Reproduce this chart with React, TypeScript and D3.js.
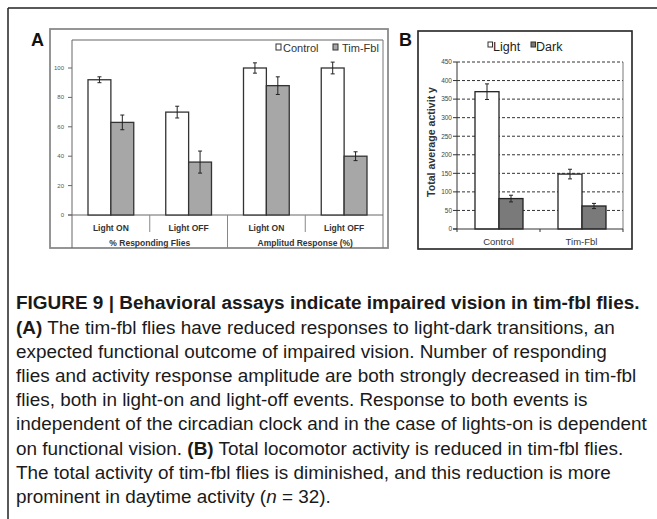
import React, { useLayoutEffect, useRef, useState } from 'react'
import * as d3 from 'd3'

// Panel A data
const aCategories = ['Light ON', 'Light OFF', 'Light ON ', 'Light OFF ']
const aGroups = ['% Responding Flies', 'Amplitud Response (%)']
const aSeries = ['Control', 'Tim-Fbl']
const aControl = [92, 70, 100, 100]
const aControlErr = [2, 4, 3.5, 4]
const aTim = [63, 36, 88, 40]
const aTimErr = [5, 7.5, 6, 3]
const aTicks = [0, 20, 40, 60, 80, 100]

// Panel B data
const bCategories = ['Control', 'Tim-Fbl']
const bSeries = ['Light', 'Dark']
const bLight = [370, 148]
const bLightErr = [21, 13]
const bDark = [82, 62]
const bDarkErr = [9, 7]
const bTicks = [0, 50, 100, 150, 200, 250, 300, 350, 400, 450]

type Seg = { t: string; b?: boolean; i?: boolean }
const captionTitle = 'FIGURE 9 | Behavioral assays indicate impaired vision in tim-fbl flies.'
const captionLines: Seg[][] = [
  [{ t: '(A)', b: true }, { t: ' The tim-fbl flies have reduced responses to light-dark transitions, an' }],
  [{ t: 'expected functional outcome of impaired vision. Number of responding' }],
  [{ t: 'flies and activity response amplitude are both strongly decreased in tim-fbl' }],
  [{ t: 'flies, both in light-on and light-off events. Response to both events is' }],
  [{ t: 'independent of the circadian clock and in the case of lights-on is dependent' }],
  [{ t: 'on functional vision. ' }, { t: '(B)', b: true }, { t: ' Total locomotor activity is reduced in tim-fbl flies.' }],
  [{ t: 'The total activity of tim-fbl flies is diminished, and this reduction is more' }],
  [{ t: 'prominent in daytime activity (' }, { t: 'n', i: true }, { t: ' = 32).' }],
]
// right ends of the lines in the reference, used to pick one common narrowing factor
const captionEnds = [610, 607, 645, 520, 650, 623, 580, 283]

const SANS = '"Liberation Sans", Arial, sans-serif'

function ErrBar({ x, y0, y1 }: { x: number; y0: number; y1: number }) {
  return (
    <g stroke="#222" strokeWidth={1}>
      <line x1={x} x2={x} y1={y0} y2={y1} />
      <line x1={x - 2} x2={x + 2} y1={y0} y2={y0} />
      <line x1={x - 2} x2={x + 2} y1={y1} y2={y1} />
    </g>
  )
}

function PanelA() {
  const x = d3.scaleBand<string>().domain(aCategories).range([72, 383])
  const bw = x.bandwidth()
  const sub = d3.scaleBand<string>().domain(aSeries).range([16, bw - 16])
  const y = d3.scaleLinear().domain([0, 100]).range([215, 68])
  const vals = [aControl, aTim]
  const errs = [aControlErr, aTimErr]
  const fills = ['#ffffff', '#a7a7a7']
  const groupX = d3.scaleBand<string>().domain(aGroups).range([72, 383])

  return (
    <g fontFamily={SANS}>
      <rect x={50} y={29} width={338} height={219} fill="#fff" stroke="#8a8a8a" strokeWidth={1.8} />
      <text x={31} y={46} fontSize={18} fontWeight="bold" fill="#111">A</text>
      {/* plot frame */}
      <line x1={72} x2={383} y1={40} y2={40} stroke="#666" strokeWidth={1.2} />
      <line x1={383} x2={383} y1={40} y2={248} stroke="#777" strokeWidth={1} />
      <line x1={72} x2={72} y1={40} y2={248} stroke="#666" strokeWidth={1} />
      <line x1={68} x2={383} y1={y(0)} y2={y(0)} stroke="#666" strokeWidth={1} />
      {aTicks.map(t => (
        <g key={t}>
          <line x1={68} x2={72} y1={y(t)} y2={y(t)} stroke="#666" />
          <text x={64} y={y(t) + 2} fontSize={6} textAnchor="end" fill="#555">{t}</text>
        </g>
      ))}
      {aCategories.map((c, i) => (
        <g key={c}>
          {vals.map((v, s) => {
            const bx = x(c)! + sub(aSeries[s])!
            return (
              <g key={s}>
                <rect x={bx} y={y(v[i])} width={sub.bandwidth()} height={y(0) - y(v[i])}
                  fill={fills[s]} stroke="#333" strokeWidth={1.3} />
                <ErrBar x={bx + sub.bandwidth() / 2} y0={y(v[i] + errs[s][i])} y1={y(v[i] - errs[s][i])} />
              </g>
            )
          })}
          <text x={x(c)! + bw / 2} y={231} fontSize={8.5} fontWeight="bold" textAnchor="middle" fill="#333">
            {c.trim()}
          </text>
          {i % 2 === 1 && (
            <line x1={x(c)!} x2={x(c)!} y1={y(0)} y2={232} stroke="#888" strokeWidth={1} />
          )}
        </g>
      ))}
      <line x1={groupX(aGroups[1])!} x2={groupX(aGroups[1])!} y1={y(0)} y2={248} stroke="#888" strokeWidth={1} />
      {aGroups.map(g => (
        <text key={g} x={groupX(g)! + groupX.bandwidth() / 2} y={246} fontSize={8.5} fontWeight="bold"
          textAnchor="middle" fill="#333">{g}</text>
      ))}
      {/* legend */}
      <rect x={276} y={44} width={5} height={6} fill="#fff" stroke="#333" strokeWidth={1} />
      <text x={283} y={52} fontSize={11} fill="#333">{aSeries[0]}</text>
      <rect x={333} y={44} width={5} height={6} fill="#a7a7a7" stroke="#333" strokeWidth={1} />
      <text x={342} y={52} fontSize={11} fill="#333">{aSeries[1]}</text>
    </g>
  )
}

function PanelB() {
  const x = d3.scaleBand<string>().domain(bCategories).range([457, 623])
  const bw = x.bandwidth()
  const sub = d3.scaleBand<string>().domain(bSeries).range([18, bw - 17])
  const y = d3.scaleLinear().domain([0, 450]).range([229, 62])
  const vals = [bLight, bDark]
  const errs = [bLightErr, bDarkErr]
  const fills = ['#ffffff', '#7a7a7a']

  return (
    <g fontFamily={SANS}>
      <rect x={418} y={31} width={214} height={218} fill="#fff" stroke="#222" strokeWidth={1.6} />
      <text x={399} y={46} fontSize={18} fontWeight="bold" fill="#111">B</text>
      {bTicks.filter(t => t > 0).map(t => (
        <line key={t} x1={457} x2={623} y1={y(t)} y2={y(t)} stroke="#333" strokeWidth={1} strokeDasharray="3,2" />
      ))}
      <line x1={623} x2={623} y1={y(450)} y2={y(0)} stroke="#555" strokeWidth={0.8} />
      <line x1={457} x2={457} y1={y(450)} y2={y(0)} stroke="#333" strokeWidth={1} />
      {bTicks.map(t => (
        <g key={t}>
          <line x1={453} x2={457} y1={y(t)} y2={y(t)} stroke="#333" />
          <text x={452} y={y(t) + 2.3} fontSize={6.5} textAnchor="end" fill="#444">{t}</text>
        </g>
      ))}
      {bCategories.map((c, i) => (
        <g key={c}>
          {vals.map((v, s) => {
            const bx = x(c)! + sub(bSeries[s])!
            return (
              <g key={s}>
                <rect x={bx} y={y(v[i])} width={sub.bandwidth()} height={y(0) - y(v[i])}
                  fill={fills[s]} stroke="#222" strokeWidth={1.3} />
                <ErrBar x={bx + sub.bandwidth() / 2} y0={y(v[i] + errs[s][i])} y1={y(v[i] - errs[s][i])} />
              </g>
            )
          })}
          <text x={x(c)! + bw / 2} y={245} fontSize={9.5} textAnchor="middle" fill="#333">{c}</text>
        </g>
      ))}
      <line x1={453} x2={623} y1={y(0)} y2={y(0)} stroke="#333" strokeWidth={1} />
      {[457, x(bCategories[1])!, 623].map((tx, k) => (
        <line key={k} x1={tx} x2={tx} y1={y(0)} y2={y(0) + 3} stroke="#333" />
      ))}
      <text transform={`translate(435,142) rotate(-90)`} fontSize={10} fontWeight="bold" textAnchor="middle"
        fill="#333" textLength={110} lengthAdjust="spacingAndGlyphs">Total average activit y</text>
      {/* legend */}
      <rect x={488} y={42} width={4.5} height={5} fill="#fff" stroke="#333" strokeWidth={1} />
      <text x={493} y={51} fontSize={12.5} fill="#222">{bSeries[0]}</text>
      <rect x={531} y={42} width={4.5} height={5} fill="#7a7a7a" stroke="#333" strokeWidth={1} />
      <text x={536} y={51} fontSize={12.5} fill="#222">{bSeries[1]}</text>
    </g>
  )
}

function Caption() {
  const x0 = 16
  const titleRef = useRef<SVGTextElement>(null)
  const lineRefs = useRef<(SVGTextElement | null)[]>([])
  const [titleK, setTitleK] = useState(1)
  const [bodyK, setBodyK] = useState(1)

  useLayoutEffect(() => {
    if (titleRef.current) {
      setTitleK((640 - x0) / titleRef.current.getComputedTextLength())
    }
    // one shared narrowing factor for all body lines, from the full-width lines
    const ratios = lineRefs.current
      .map((el, i) => (el ? (captionEnds[i] - x0) / el.getComputedTextLength() : 1))
      .filter((_, i) => captionEnds[i] > 600)
    setBodyK(d3.median(ratios) || 1)
  }, [])

  return (
    <g fontFamily={SANS} fill="#1a1a1a">
      <text ref={titleRef} transform={`translate(${x0},309) scale(${titleK},1)`} fontSize={18.5} fontWeight="bold">
        {captionTitle}
      </text>
      {captionLines.map((line, i) => (
        <text key={i} ref={el => { lineRefs.current[i] = el }}
          transform={`translate(${x0},${334 + i * 24.1}) scale(${bodyK},1)`} fontSize={18.5}>
          {line.map((s, k) => (
            <tspan key={k} fontWeight={s.b ? 'bold' : 'normal'} fontStyle={s.i ? 'italic' : 'normal'}>{s.t}</tspan>
          ))}
        </text>
      ))}
    </g>
  )
}

export default function App() {
  return (
    <svg width={657} height={519} style={{ position: 'absolute', left: 0, top: 0, background: '#fff' }}>
      <rect width={657} height={519} fill="#fff" />
      <line x1={8} x2={657} y1={8} y2={8} stroke="#222" strokeWidth={1.5} />
      <line x1={8} x2={8} y1={8} y2={519} stroke="#222" strokeWidth={1.5} />
      <PanelA />
      <PanelB />
      <Caption />
    </svg>
  )
}
